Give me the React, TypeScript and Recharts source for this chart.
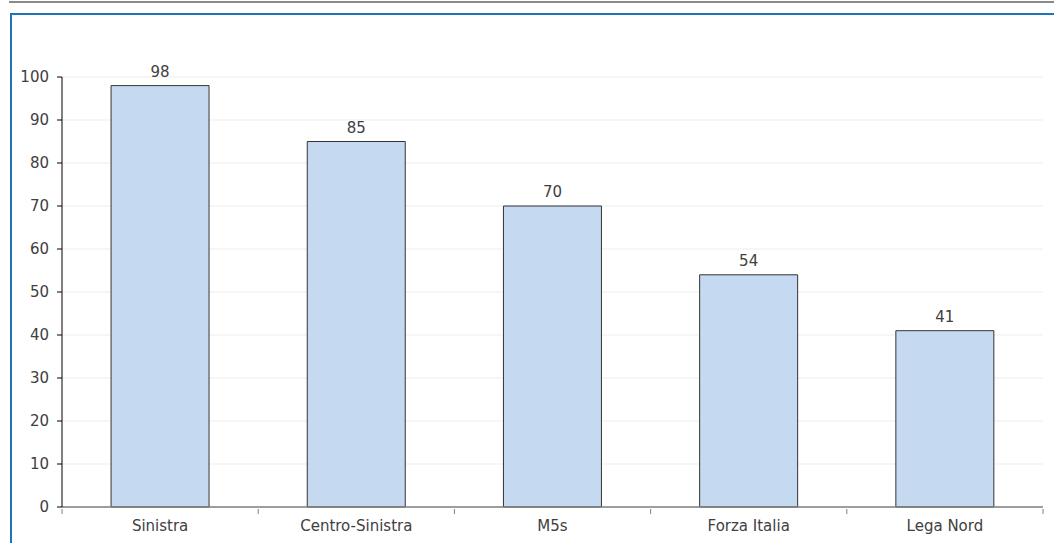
import React from 'react';
import { BarChart, Bar, XAxis, YAxis, CartesianGrid, LabelList } from 'recharts';

const parties = ['Sinistra', 'Centro-Sinistra', 'M5s', 'Forza Italia', 'Lega Nord'];
const values = [98, 85, 70, 54, 41];
const yTicks = [0, 10, 20, 30, 40, 50, 60, 70, 80, 90, 100];

const data = parties.map((name, i) => ({ name, value: values[i] }));

const FONT = '"DejaVu Sans", sans-serif';
const TEXT = '#404040';
const BAND = (1043 - 62) / parties.length;

// excel-style category axis: ticks sit on the category boundaries
const CategoryTick = (props: any) => {
  const { x, y, payload, index } = props;
  const left = x - BAND / 2;
  const axisY = y - 6;
  return (
    <g>
      <line x1={left} y1={axisY} x2={left} y2={axisY + 5} stroke="#7f7f7f" />
      {index === parties.length - 1 && (
        <line x1={x + BAND / 2} y1={axisY} x2={x + BAND / 2} y2={axisY + 5} stroke="#7f7f7f" />
      )}
      <text x={x} y={y + 16} textAnchor="middle" fill={TEXT} fontSize={15} fontFamily={FONT}>
        {payload.value}
      </text>
    </g>
  );
};

const App: React.FC = () => {
  return (
    <div style={{ position: 'absolute', top: 0, left: 0, width: 1054, height: 543, background: '#fff', overflow: 'hidden' }}>
      <div style={{ position: 'absolute', top: 1, left: 9, width: 1045, height: 2, background: '#8a8a8a' }} />
      <div
        style={{
          position: 'absolute',
          top: 13,
          left: 10,
          width: 1060,
          height: 560,
          borderTop: '2px solid #1f73b7',
          borderLeft: '2px solid #1f73b7',
        }}
      />
      <div style={{ position: 'absolute', top: 0, left: 0 }}>
        <BarChart
          width={1054}
          height={543}
          data={data}
          margin={{ top: 77, right: 11, left: 0, bottom: 0 }}
          barCategoryGap="25%"
        >
          <CartesianGrid vertical={false} stroke="#ededed" />
          <XAxis
            dataKey="name"
            height={36}
            tickLine={false}
            axisLine={{ stroke: '#7f7f7f', strokeWidth: 1.5 }}
            tick={<CategoryTick />}
            interval={0}
          />
          <YAxis
            width={62}
            domain={[0, 100]}
            ticks={yTicks}
            interval={0}
            tickSize={5}
            tickMargin={8}
            axisLine={{ stroke: '#000' }}
            tickLine={{ stroke: '#000' }}
            tick={{ fill: TEXT, fontSize: 15, fontFamily: FONT }}
          />
          <Bar dataKey="value" fill="#c5daf0" stroke="#333" strokeWidth={1} isAnimationActive={false}>
            <LabelList dataKey="value" position="top" offset={9} fill={TEXT} fontSize={15} fontFamily={FONT} />
          </Bar>
        </BarChart>
      </div>
    </div>
  );
};

export default App;
